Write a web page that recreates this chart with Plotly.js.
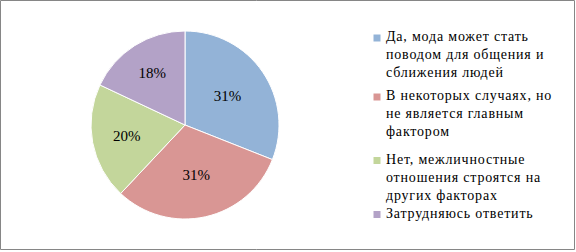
<!DOCTYPE html>
<html>
<head>
<meta charset="utf-8">
<script src="https://cdn.plot.ly/plotly-3.0.1.min.js"></script>
<style>
  html, body { margin: 0; padding: 0; background: #ffffff; }
</style>
</head>
<body>
<div id="chart"></div>
<script>
// ---- data ----
var categories = [
  "Да, мода может стать поводом для общения и сближения людей",
  "В некоторых случаях, но не является главным фактором",
  "Нет, межличностные отношения строятся на других факторах",
  "Затрудняюсь ответить"
];
var legendLabels = [
  "Да, мода может стать<br>поводом для общения и<br>сближения людей",
  "В некоторых случаях, но<br>не является главным<br>фактором",
  "Нет, межличностные<br>отношения строятся на<br>других факторах",
  "Затрудняюсь ответить"
];
var values = [31, 31, 20, 18];
var colors = ["#93b3d7", "#d99694", "#c3d69b", "#b3a2c7"];

// ---- layout helpers ----
var W = 576, H = 252;
var SERIF = "Liberation Serif";
function px(x) { return x / W; }
function py(y) { return 1 - y / H; }
function spaced(s) {
  return s.split("<br>").map(function (line) {
    return '<span style="letter-spacing:0.8px">' + line + '</span>';
  }).join("<br>");
}

var legendMarkerY = [38, 97, 160.5, 214.5];
var shapes = [];
var annotations = [];

// outer frame
shapes.push({
  type: "rect", xref: "paper", yref: "paper",
  x0: px(0.5), x1: px(574.5), y0: py(249.5), y1: py(0.5),
  line: { color: "#868686", width: 1 }, fillcolor: "rgba(0,0,0,0)"
});

for (var i = 0; i < legendLabels.length; i++) {
  var cy = legendMarkerY[i];
  shapes.push({
    type: "rect", xref: "paper", yref: "paper",
    x0: px(373.5), x1: px(380.5), y0: py(cy + 3.5), y1: py(cy - 3.5),
    line: { width: 0 }, fillcolor: colors[i]
  });
  annotations.push({
    xref: "paper", yref: "paper",
    x: px(385), y: py(cy - 10),
    xanchor: "left", yanchor: "top", align: "left",
    showarrow: false, borderpad: 0,
    text: spaced(legendLabels[i]),
    font: { family: SERIF, size: 14, color: "#000000" }
  });
}

var trace = {
  type: "pie",
  labels: categories,
  values: values,
  sort: false,
  direction: "clockwise",
  rotation: 0,
  marker: { colors: colors, line: { color: "#ffffff", width: 1 } },
  textinfo: "percent",
  texttemplate: "%{percent:.0%}",
  textposition: "inside",
  insidetextorientation: "horizontal",
  textfont: { family: SERIF, size: 15, color: "#000000" },
  hoverinfo: "label+percent",
  showlegend: false,
  domain: { x: [px(91), px(279)], y: [py(219), py(31)] }
};

var layout = {
  width: W, height: H,
  margin: { l: 0, r: 0, t: 0, b: 0 },
  paper_bgcolor: "#ffffff",
  plot_bgcolor: "#ffffff",
  font: { family: SERIF },
  showlegend: false,
  shapes: shapes,
  annotations: annotations
};

Plotly.newPlot("chart", [trace], layout, { displayModeBar: false, staticPlot: true });
</script>
</body>
</html>
